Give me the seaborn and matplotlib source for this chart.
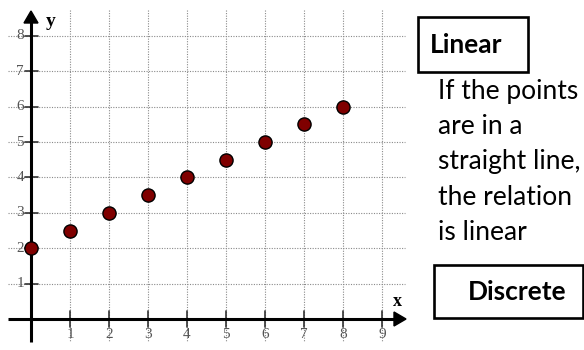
import matplotlib
matplotlib.use("Agg")
import matplotlib.pyplot as plt
import seaborn as sns
import pandas as pd
from matplotlib.patches import Rectangle, Polygon

# ---- data ----
x_vals = [0, 1, 2, 3, 4, 5, 6, 7, 8]
y_vals = [2, 2.5, 3, 3.5, 4, 4.5, 5, 5.5, 6]
x_ticks = [1, 2, 3, 4, 5, 6, 7, 8, 9]
y_ticks = [1, 2, 3, 4, 5, 6, 7, 8]
body_lines = ["If the points", "are in a", "straight line,", "the relation", "is linear"]
box1_label = "Linear"
box2_label = "Discrete"

W, H = 584, 350
sns.set_style("white")
fig = plt.figure(figsize=(W / 100, H / 100), dpi=100)
ax = fig.add_axes([0, 0, 1, 1])

# pixel mapping: px = 31 + 39*x ; py = 319 - 35.4*y
X0, SX, Y0, SY = 31, 39.0, 319, 35.4
ax.set_xlim((0 - X0) / SX, (W - X0) / SX)
ax.set_ylim((Y0 - H) / SY, Y0 / SY)
ax.axis("off")

def dx(px):
    return (px - X0) / SX

def dy(py):
    return (Y0 - py) / SY

grid_kw = dict(color="#8a8a8a", lw=0.8, ls=(0, (1, 1.3)), zorder=1)
for t in y_ticks:
    ax.plot([dx(8), dx(405)], [t, t], **grid_kw)
for t in x_ticks:
    ax.plot([t, t], [dy(10), dy(341)], **grid_kw)

# axes
ax.plot([dx(8), dx(396)], [0, 0], color="black", lw=2.2, zorder=3, solid_capstyle="butt")
ax.plot([0, 0], [dy(342), dy(22)], color="black", lw=2.2, zorder=3, solid_capstyle="butt")
ax.add_patch(Polygon([[dx(406), 0], [dx(394), dy(312)], [dx(394), dy(326)]],
                     closed=True, color="black", zorder=3))
ax.add_patch(Polygon([[0, dy(11)], [dx(24), dy(23)], [dx(38), dy(23)]],
                     closed=True, color="black", zorder=3))

# tick marks
for t in x_ticks:
    ax.plot([t, t], [dy(311), dy(327)], color="#333333", lw=1.2, zorder=2)
for t in y_ticks:
    ax.plot([dx(25), dx(38)], [t, t], color="#333333", lw=1.2, zorder=2)

serif = "Liberation Serif"
for t in x_ticks:
    ax.text(t, dy(335), str(t), ha="center", va="center", fontsize=11,
            family=serif, color="#555555")
for t in y_ticks:
    ax.text(dx(24), t, str(t), ha="right", va="center", fontsize=11,
            family=serif, color="#555555")
ax.text(dx(46), dy(21), "y", ha="left", va="center", fontsize=14,
        family=serif, fontweight="bold", color="black")
ax.text(dx(397), dy(301), "x", ha="center", va="center", fontsize=13,
        family=serif, fontweight="bold", color="black")

df = pd.DataFrame({"x": x_vals, "y": y_vals})
sns.scatterplot(data=df, x="x", y="y", ax=ax, s=90, color="#7f0000",
                edgecolor="black", linewidth=1.0, zorder=5, clip_on=False)

# right side text
def fx(px):
    return px / W

def fy(py):
    return 1 - py / H

sans = "Lato"
fig.patches.append(Rectangle((fx(418), fy(72)), (528 - 418) / W, (72 - 17) / H,
                             transform=fig.transFigure, fill=False, lw=1.9,
                             edgecolor="black"))
fig.text(fx(430), fy(45), box1_label, ha="left", va="center", fontsize=19,
         family=sans, fontweight="bold", color="black")

for i, line in enumerate(body_lines):
    fig.text(fx(438), fy(91 + 35.5 * i), line, ha="left", va="center",
             fontsize=19, family=sans, color="black")

fig.patches.append(Rectangle((fx(434), fy(318)), (583 - 434) / W, (318 - 265) / H,
                             transform=fig.transFigure, fill=False, lw=1.9,
                             edgecolor="black"))
fig.text(fx(517), fy(292), box2_label, ha="center", va="center", fontsize=19,
         family=sans, fontweight="bold", color="black")

fig.savefig("out.png", dpi=100)
